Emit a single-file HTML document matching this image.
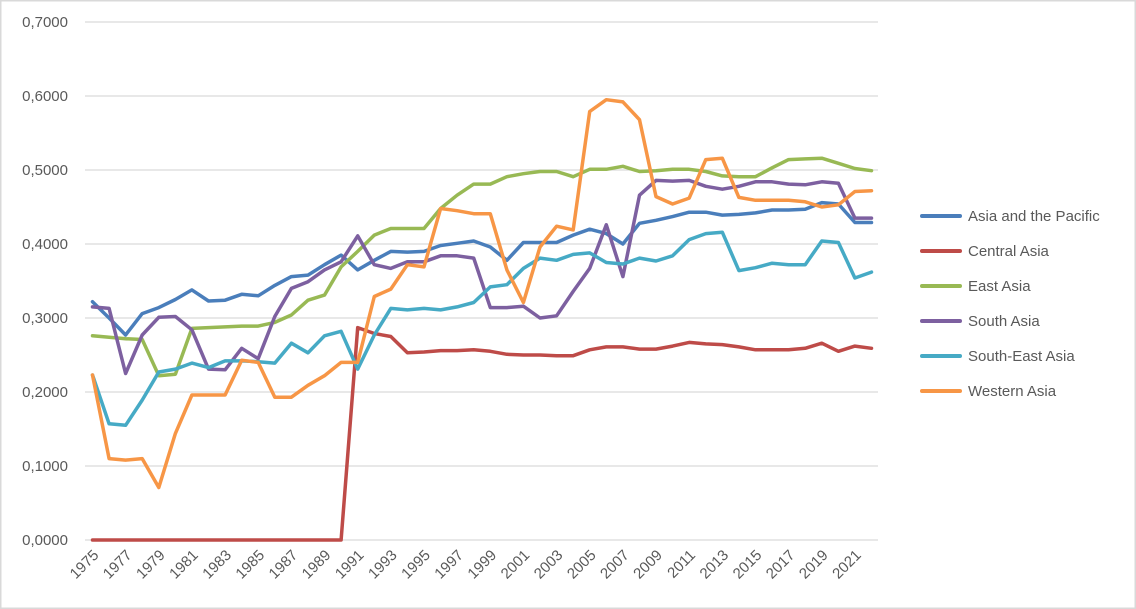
<!DOCTYPE html>
<html><head><meta charset="utf-8"><style>
body{margin:0;background:#fff;}
svg{display:block;font-family:"Liberation Sans",sans-serif;}
</style></head><body>
<svg id="chart" width="1136" height="609"></svg>
<script>
const years=[];for(let y=1975;y<=2022;y++)years.push(y);
const seriesNames=["Asia and the Pacific","Central Asia","East Asia","South Asia","South-East Asia","Western Asia"];
const seriesColors=["#4a7ebb","#be4b48","#98b954","#7d60a0","#46aac5","#f79646"];
const asiaPacific=[0.322,0.300,0.277,0.306,0.314,0.325,0.338,0.323,0.324,0.332,0.330,0.344,0.356,0.358,0.372,0.385,0.365,0.378,0.390,0.389,0.390,0.398,0.401,0.404,0.396,0.378,0.402,0.402,0.402,0.412,0.420,0.414,0.400,0.428,0.432,0.437,0.443,0.443,0.439,0.440,0.442,0.446,0.446,0.447,0.456,0.454,0.429,0.429];
const centralAsia=[0,0,0,0,0,0,0,0,0,0,0,0,0,0,0,0,0.287,0.279,0.275,0.253,0.254,0.256,0.256,0.257,0.255,0.251,0.250,0.250,0.249,0.249,0.257,0.261,0.261,0.258,0.258,0.262,0.267,0.265,0.264,0.261,0.257,0.257,0.257,0.259,0.266,0.255,0.262,0.259];
const eastAsia=[0.276,0.274,0.272,0.271,0.222,0.224,0.286,0.287,0.288,0.289,0.289,0.294,0.304,0.324,0.331,0.369,0.390,0.412,0.421,0.421,0.421,0.448,0.466,0.481,0.481,0.491,0.495,0.498,0.498,0.491,0.501,0.501,0.505,0.498,0.499,0.501,0.501,0.498,0.492,0.491,0.491,0.503,0.514,0.515,0.516,0.509,0.502,0.499];
const southAsia=[0.315,0.313,0.225,0.277,0.301,0.302,0.284,0.231,0.230,0.259,0.245,0.302,0.340,0.349,0.365,0.376,0.411,0.372,0.367,0.376,0.376,0.384,0.384,0.381,0.314,0.314,0.316,0.300,0.303,0.336,0.367,0.426,0.356,0.466,0.486,0.485,0.486,0.478,0.474,0.478,0.484,0.484,0.481,0.480,0.484,0.482,0.435,0.435];
const southEastAsia=[0.223,0.157,0.155,0.189,0.227,0.231,0.239,0.233,0.242,0.242,0.241,0.239,0.266,0.253,0.276,0.282,0.231,0.277,0.313,0.311,0.313,0.311,0.315,0.321,0.342,0.345,0.367,0.381,0.378,0.386,0.388,0.375,0.373,0.381,0.377,0.384,0.406,0.414,0.416,0.364,0.368,0.374,0.372,0.372,0.404,0.402,0.354,0.362];
const westernAsia=[0.223,0.110,0.108,0.110,0.071,0.144,0.196,0.196,0.196,0.243,0.240,0.193,0.193,0.209,0.222,0.240,0.240,0.329,0.339,0.372,0.369,0.448,0.445,0.441,0.441,0.365,0.321,0.396,0.424,0.419,0.579,0.595,0.592,0.568,0.464,0.454,0.462,0.514,0.516,0.463,0.459,0.459,0.459,0.457,0.450,0.453,0.471,0.472];
const yTicks=[0,0.1,0.2,0.3,0.4,0.5,0.6,0.7];
const allSeries=[asiaPacific,centralAsia,eastAsia,southAsia,southEastAsia,westernAsia];

const NS="http://www.w3.org/2000/svg";
const svg=document.getElementById('chart');
const X0=92.5,X1=871.5,Y0=540,YTOP=22,PL=85,PR=878;
function xs(i){return X0+(X1-X0)*i/(years.length-1);}
function ys(v){return Y0-(Y0-YTOP)*v/0.7;}
function mk(t,a){const e=document.createElementNS(NS,t);for(const k in a)e.setAttribute(k,a[k]);svg.appendChild(e);return e;}

const border=mk('rect',{x:0.75,y:0.75,width:1134.5,height:607.5,fill:'none',stroke:'#d9d9d9','stroke-width':1.5});



yTicks.forEach((t,i)=>{
  const g=mk('line',{x1:PL,x2:PR,y1:ys(t),y2:ys(t),stroke:'#d9d9d9','stroke-width':1.3});
  
  
  const l=mk('text',{x:68,y:ys(t)+5,'text-anchor':'end','font-size':15,fill:'#595959'});
  l.textContent=t.toFixed(4).replace('.',',');
  
  
});
years.forEach((y,i)=>{
  if(i%2!==0)return;
  const x=xs(i)+7,yy=556;
  const l=mk('text',{x:x,y:yy,'text-anchor':'end','font-size':15,fill:'#595959',transform:`rotate(-45 ${x} ${yy})`});
  l.textContent=y;
  
  
});
allSeries.forEach((s,k)=>{
  const p=mk('polyline',{points:s.map((v,i)=>xs(i).toFixed(1)+','+ys(v).toFixed(1)).join(' '),fill:'none',stroke:seriesColors[k],'stroke-width':3.5,'stroke-linejoin':'round','stroke-linecap':'round'});
  
  
  const ly=216+35*k;
  const ln=mk('line',{x1:922,x2:960,y1:ly,y2:ly,stroke:seriesColors[k],'stroke-width':4,'stroke-linecap':'round'});
  
  
  const lt=mk('text',{x:968,y:ly+5,'font-size':15,fill:'#595959'});
  lt.textContent=seriesNames[k];
  
  
});
</script>
</body></html>
